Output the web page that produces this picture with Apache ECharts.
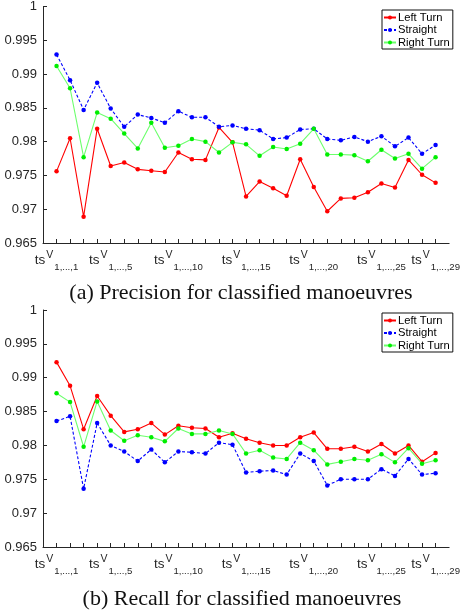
<!DOCTYPE html>
<html>
<head>
<meta charset="utf-8">
<script src="https://cdn.jsdelivr.net/npm/echarts@6/dist/echarts.min.js"></script>
<style>
html,body{margin:0;padding:0;background:#fff;}
#c{width:463px;height:610px;}
</style>
</head>
<body>
<div id="c"></div>
<script>
// ---- data ----
const steps = [1,2,3,4,5,6,7,8,9,10,11,12,13,14,15,16,17,18,19,20,21,22,23,24,25,26,27,28,29];
const seriesNames = ['Left Turn', 'Straight', 'Right Turn'];

const precLeft = [0.9756,0.9805,0.9689,0.9819,0.9764,0.9769,0.9759,0.9757,0.9755,0.9784,0.9774,0.9773,0.9821,0.9799,0.9719,0.9741,0.9731,0.9720,0.9774,0.9733,0.9697,0.9716,0.9717,0.9725,0.9738,0.9732,0.9773,0.9751,0.9739];
const precStraight = [0.9929,0.9891,0.9847,0.9887,0.9849,0.9822,0.9840,0.9835,0.9828,0.9845,0.9836,0.9836,0.9822,0.9824,0.9819,0.9817,0.9804,0.9806,0.9818,0.9819,0.9804,0.9802,0.9807,0.9800,0.9808,0.9793,0.9806,0.9782,0.9795];
const precRight = [0.9912,0.9879,0.9777,0.9843,0.9834,0.9812,0.9790,0.9828,0.9791,0.9794,0.9804,0.9800,0.9784,0.9799,0.9796,0.9779,0.9792,0.9789,0.9797,0.9819,0.9781,0.9781,0.9780,0.9771,0.9788,0.9775,0.9782,0.9760,0.9777];

const recLeft = [0.9923,0.9888,0.9824,0.9873,0.9844,0.9820,0.9824,0.9833,0.9816,0.9829,0.9826,0.9825,0.9812,0.9818,0.9810,0.9804,0.9800,0.9800,0.9812,0.9819,0.9795,0.9795,0.9798,0.9791,0.9802,0.9788,0.9800,0.9776,0.9789];
const recStraight = [0.9836,0.9843,0.9736,0.9833,0.9800,0.9791,0.9777,0.9794,0.9775,0.9791,0.9790,0.9788,0.9804,0.9801,0.9760,0.9762,0.9763,0.9757,0.9788,0.9777,0.9741,0.9750,0.9750,0.9750,0.9765,0.9755,0.9780,0.9757,0.9759];
const recRight = [0.9877,0.9864,0.9798,0.9865,0.9822,0.9807,0.9815,0.9812,0.9806,0.9825,0.9817,0.9817,0.9822,0.9817,0.9788,0.9793,0.9782,0.9780,0.9804,0.9793,0.9772,0.9776,0.9780,0.9778,0.9787,0.9775,0.9796,0.9773,0.9778];

const labelSteps = [1,5,10,15,20,25,29];
const labelSubs = ['1,...,1','1,...,5','1,...,10','1,...,15','1,...,20','1,...,25','1,...,29'];
const yMin = 0.965, yMax = 1, yStep = 0.005;
const captions = ['(a) Precision for classified manoeuvres', '(b) Recall for classified manoeuvres'];

// ---- chart ----
const SANS = 'Liberation Sans, Arial, Helvetica, sans-serif';
const AX = '#262626';
const chart = echarts.init(document.getElementById('c'), null, {renderer: 'canvas'});

function xAxis(gi) {
  return {
    type: 'value', gridIndex: gi, min: 0, max: 30,
    axisLine: {show: true, onZero: false, lineStyle: {color: AX, width: 1}},
    axisTick: {show: true, inside: true, length: 4, customValues: steps, lineStyle: {color: AX, width: 1}},
    splitLine: {show: false},
    axisLabel: {
      customValues: labelSteps,
      margin: 10,
      color: AX,
      formatter: function (v) {
        const i = labelSteps.indexOf(Math.round(v));
        if (i < 0) return '';
        return '{t|ts}{s|V}{b|' + labelSubs[i] + '}';
      },
      rich: {
        t: {fontSize: 13.5, fontFamily: SANS, color: AX, lineHeight: 14},
        s: {fontSize: 10.5, fontFamily: SANS, color: AX, lineHeight: 10, padding: [0, 0, 9, 1]},
        b: {fontSize: 9.6, fontFamily: SANS, color: AX, lineHeight: 9, padding: [15, 0, 0, 1]}
      }
    }
  };
}
function yAxis(gi) {
  return {
    type: 'value', gridIndex: gi, min: yMin, max: yMax, interval: yStep,
    axisLine: {show: true, onZero: false, lineStyle: {color: AX, width: 1}},
    axisTick: {show: true, inside: true, length: 4, lineStyle: {color: AX, width: 1}},
    splitLine: {show: false},
    axisLabel: {fontSize: 13, fontFamily: SANS, color: AX, margin: 6,
      formatter: function (v) { return String(parseFloat(v.toFixed(3))); }}
  };
}
function mk(arr) { return steps.map((x, i) => [x, arr[i]]); }
const styles = [
  {line: '#ff0000', marker: '#ff0000', type: 'solid'},
  {line: '#0000ff', marker: '#0000ff', type: [3, 2]},
  {line: '#6cff6c', marker: '#00ee00', type: 'solid'}
];
function ser(name, arr, si, gi) {
  const s = styles[si];
  return {
    name: name, type: 'line', xAxisIndex: gi, yAxisIndex: gi,
    data: mk(arr), symbol: 'circle', symbolSize: 4.5, showSymbol: true,
    lineStyle: {color: s.line, width: 1.1, type: s.type},
    itemStyle: {color: s.marker},
    emphasis: {disabled: true}, animation: false, z: 2 + si
  };
}
function legend(top) {
  return {
    show: true, orient: 'vertical', left: 382, top: top,
    data: seriesNames.map(n => ({name: n})),
    backgroundColor: '#fff', borderColor: '#111', borderWidth: 1,
    padding: [2, 3, 1, 1], itemGap: 1.5, itemWidth: 12, itemHeight: 5,
    textStyle: {fontSize: 11.2, fontFamily: SANS, color: '#000', padding: [0, 0, 0, -3]},
    selectedMode: false
  };
}

const option = {
  animation: false,
  backgroundColor: '#fff',
  grid: [
    {left: 43, width: 412, top: 6, height: 237, containLabel: false},
    {left: 43, width: 412, top: 310, height: 237, containLabel: false}
  ],
  xAxis: [xAxis(0), xAxis(1)],
  yAxis: [yAxis(0), yAxis(1)],
  legend: [Object.assign(legend(10), {id: 'l0'}), Object.assign(legend(313), {id: 'l1'})],
  series: [
    ser(seriesNames[0], precLeft, 0, 0),
    ser(seriesNames[1], precStraight, 1, 0),
    ser(seriesNames[2], precRight, 2, 0),
    ser(seriesNames[0], recLeft, 0, 1),
    ser(seriesNames[1], recStraight, 1, 1),
    ser(seriesNames[2], recRight, 2, 1)
  ],
  graphic: [
    {type: 'text', x: 241, y: 293, style: {text: captions[0], align: 'center', verticalAlign: 'middle', font: '22px "Liberation Serif", "Times New Roman", serif', fill: '#111'}},
    {type: 'text', x: 242, y: 599, style: {text: captions[1], align: 'center', verticalAlign: 'middle', font: '22px "Liberation Serif", "Times New Roman", serif', fill: '#111'}}
  ]
};
chart.setOption(option);
</script>
</body>
</html>
